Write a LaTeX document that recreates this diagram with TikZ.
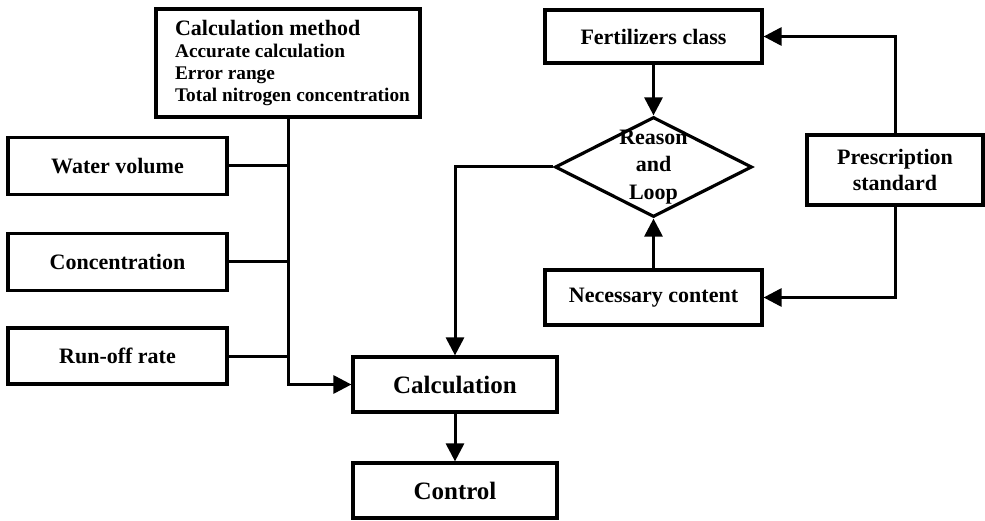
\documentclass[tikz,border=0pt]{standalone}
\usepackage{fontspec}
\setmainfont{Liberation Serif}
\usetikzlibrary{arrows.meta,shapes.geometric}
\begin{document}
\begin{tikzpicture}[x=1pt,y=-1pt,
  box/.style={draw, line width=3.2pt, rectangle, inner sep=0pt,
    font=\bfseries\fontsize{22}{26}\selectfont, align=center},
  bigbox/.style={box, minimum width=204pt, minimum height=55pt,
    font=\bfseries\fontsize{25}{30}\selectfont},
  inbox/.style={box, minimum width=219pt, minimum height=57pt},
  rbox/.style={box, minimum width=217pt},
  conn/.style={line width=3pt},
  arr/.style={conn, -{Triangle[length=18pt,width=18pt]}},
]
\useasboundingbox (0,0) rectangle (985,521);

% left column: method box and the three inputs
\node[box, minimum width=264pt, minimum height=108pt] (method) at (288,63)
  {\fontsize{19.3}{22}\selectfont
   \begin{tabular}{@{\hspace{9pt}}l@{}}
   \rule{0pt}{18pt}{\fontsize{22}{22}\selectfont Calculation method}\\
   Accurate calculation\\
   Error range\\
   Total nitrogen concentration
   \end{tabular}};
\node[inbox] (water)  at (117.5,166) {Water volume};
\node[inbox] (conc)   at (117.5,262) {Concentration};
\node[inbox, minimum height=56pt] (runoff) at (117.5,356) {Run-off rate};

% centre column
\node[bigbox] (calc)    at (455,384.5) {Calculation};
\node[bigbox] (control) at (455,490.5) {Control};

% right part
\node[rbox, minimum height=53pt] (fert) at (653.5,36.5) {Fertilizers class};
\node[diamond, draw, line width=3.2pt, inner sep=0pt,
      minimum width=197pt, minimum height=100pt,
      label={[font=\bfseries\fontsize{22}{27.5}\selectfont, align=center]center:Reason\\and\\Loop}]
      (dia) at (653.5,167) {};
\node[rbox, minimum height=55pt] (nec) at (653.5,297.5) {Necessary content};
\node[box, minimum width=176pt, minimum height=70pt] (presc) at (895,170)
  {Prescription\\standard};

% connectors
\draw[conn] (water.east)  -- (water.east  -| method.south);
\draw[conn] (conc.east)   -- (conc.east   -| method.south);
\draw[conn] (runoff.east) -- (runoff.east -| method.south);
\draw[arr] (method.south) |- (calc.west);
\draw[arr] (calc.south) -- (control.north);
\draw[arr] (dia.west) -| (calc.north);
\draw[arr] (fert.south) -- (dia.north);
\draw[arr] (nec.north) -- (dia.south);
\draw[arr] (presc.north) |- (fert.east);
\draw[arr] (presc.south) |- (nec.east);
\end{tikzpicture}
\end{document}
